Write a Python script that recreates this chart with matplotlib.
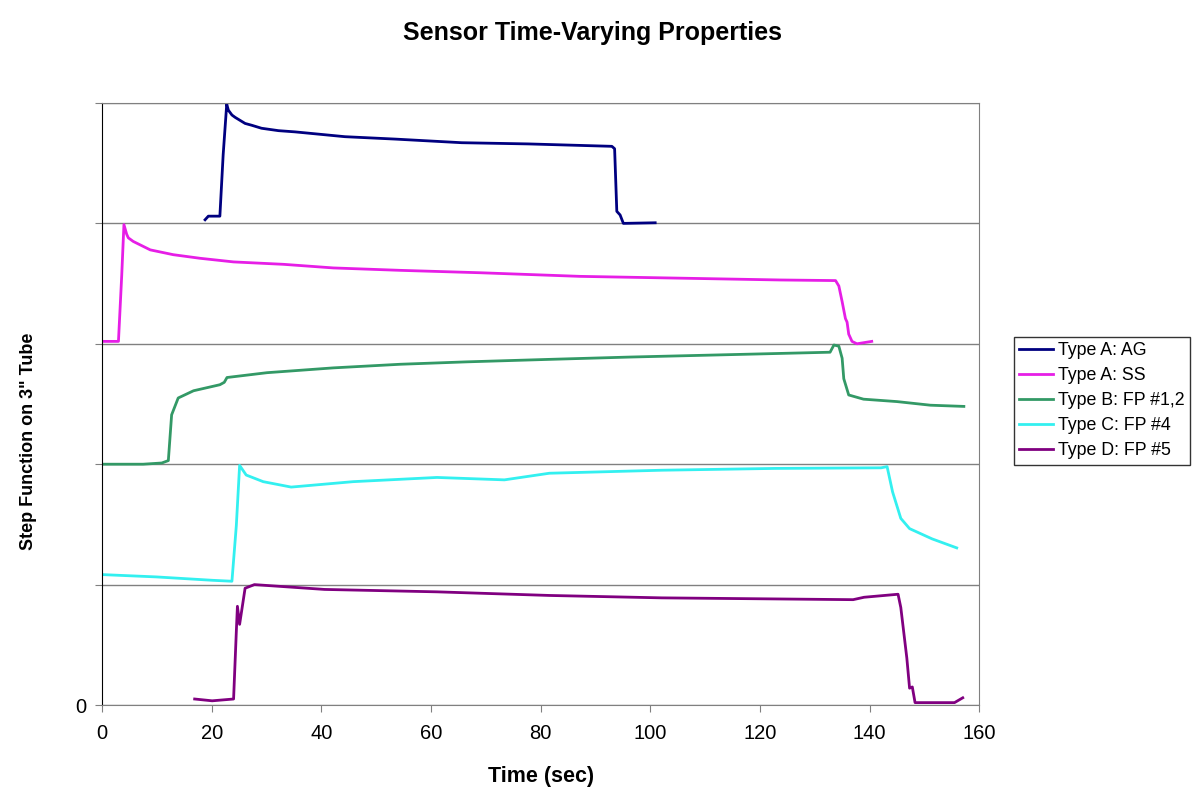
import matplotlib
matplotlib.use("Agg")
import matplotlib.pyplot as plt

plt.rcParams['font.family'] = ['Liberation Sans', 'DejaVu Sans']

# each sensor trace is stacked in its own band of height 1
ag_t = [18.8, 19.4, 21.5, 22.1, 22.75, 23.05, 23.7, 24.3, 26.1, 27.3, 29.1, 32.2, 35.2, 44.3, 53.5, 65.6, 77.7,
        93.0, 93.5, 93.9, 94.5, 95.1, 100.9]
ag_v = [0.03, 0.06, 0.06, 0.57, 0.99, 0.94, 0.90, 0.88, 0.83, 0.815, 0.79, 0.77, 0.76, 0.72, 0.70, 0.67, 0.66,
        0.64, 0.62, 0.10, 0.07, 0.0, 0.005]

ss_t = [0.0, 3.0, 3.6, 4.0, 4.5, 4.8, 5.7, 8.8, 13.0, 17.9, 24.0, 33.1, 42.2, 54.4, 69.0, 87.2, 105.5, 123.7, 133.8,
        134.4, 135.0, 135.6, 135.9, 136.2, 136.8, 137.7, 140.4]
ss_v = [0.02, 0.02, 0.57, 0.99, 0.91, 0.88, 0.85, 0.78, 0.74, 0.71, 0.68, 0.66, 0.63, 0.61, 0.59, 0.56, 0.545, 0.53,
        0.525, 0.48, 0.35, 0.21, 0.18, 0.08, 0.02, 0.0, 0.02]

fp12_t = [0.2, 7.5, 10.9, 12.1, 12.4, 12.7, 13.9, 16.7, 21.5, 22.3, 22.8, 30.1, 42.2, 54.4, 66.5, 81.1, 96.4, 114.6,
          132.8, 133.5, 134.4, 135.0, 135.3, 136.2, 138.9, 145.0, 151.1, 157.2]
fp12_v = [0.0, 0.0, 0.01, 0.03, 0.22, 0.41, 0.55, 0.61, 0.66, 0.68, 0.72, 0.76, 0.80, 0.83, 0.85, 0.87, 0.89, 0.91,
          0.93, 0.99, 0.98, 0.88, 0.71, 0.575, 0.54, 0.52, 0.49, 0.48]

fp4_t = [0.15, 9.9, 20.1, 23.7, 24.5, 25.1, 26.3, 29.4, 34.5, 45.8, 61.1, 73.4, 81.6, 102.1, 122.7, 142.1, 143.2,
         144.2, 145.7, 147.3, 151.4, 155.9]
fp4_v = [0.083, 0.064, 0.036, 0.028, 0.49, 0.99, 0.91, 0.855, 0.81, 0.855, 0.89, 0.87, 0.925, 0.95, 0.965, 0.97, 0.98,
         0.77, 0.55, 0.465, 0.38, 0.305]

fp5_t = [16.9, 20.1, 24.0, 24.5, 24.7, 25.1, 26.1, 27.8, 40.6, 61.1, 81.6, 102.1, 137.0, 139.0, 145.2, 145.7, 146.8,
         147.3, 147.8, 148.3, 155.5, 157.0]
fp5_v = [0.05, 0.035, 0.05, 0.61, 0.82, 0.67, 0.97, 1.0, 0.96, 0.94, 0.91, 0.89, 0.875, 0.895, 0.92, 0.81, 0.39,
         0.14, 0.15, 0.02, 0.02, 0.06]

labels = ["Type A: AG", "Type A: SS", "Type B: FP #1,2", "Type C: FP #4", "Type D: FP #5"]
colors = ["#000080", "#E61EE6", "#339966", "#33F0F0", "#800080"]
bands = [4, 3, 2, 1, 0]
series = [(ag_t, ag_v), (ss_t, ss_v), (fp12_t, fp12_v), (fp4_t, fp4_v), (fp5_t, fp5_v)]

fig = plt.figure(figsize=(12, 7.97), dpi=100)
ax = fig.add_axes([0.085, 0.1154, 0.731, 0.7554])

for (t, v), b, c, lab in zip(series, bands, colors, labels):
    ax.plot(t, [b + y for y in v], color=c, lw=2.0, label=lab)

ax.set_xlim(0, 160)
ax.set_ylim(0, 5)
ax.set_xticks(range(0, 161, 20))
ax.set_yticks(range(0, 6))
ax.set_yticklabels(["0", "", "", "", "", ""])
ax.yaxis.grid(True, color="#808080", lw=1)
ax.set_axisbelow(True)
ax.tick_params(axis="both", direction="out", length=5, color="#808080", labelsize=14.5)
ax.tick_params(axis="x", pad=9)
ax.tick_params(axis="y", pad=6)

for s in ["top", "right", "bottom"]:
    ax.spines[s].set_color("#808080")
ax.spines["left"].set_color("#000000")

ax.set_xlabel("Time (sec)", fontsize=15.5, fontweight="bold", labelpad=16)
fig.text(0.024, 0.446, 'Step Function on 3" Tube', rotation=90, ha="center", va="center",
         fontsize=13, fontweight="bold")
fig.text(0.494, 0.959, "Sensor Time-Varying Properties", ha="center", va="center",
         fontsize=18, fontweight="bold")

leg = ax.legend(loc="center left", bbox_to_anchor=(0.845, 0.497), bbox_transform=fig.transFigure,
                fontsize=12.8, frameon=True, fancybox=False, handlelength=1.9, handletextpad=0.25,
                borderpad=0.3, labelspacing=0.45, borderaxespad=0)
leg.get_frame().set_edgecolor("#000000")
leg.get_frame().set_linewidth(1)

fig.savefig("out.png", dpi=100)
